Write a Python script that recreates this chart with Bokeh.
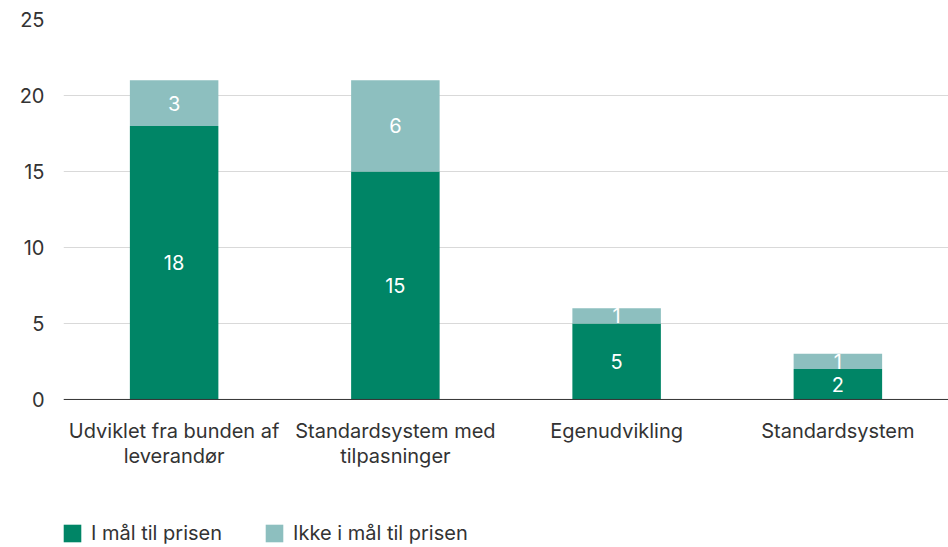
from bokeh.plotting import figure
from bokeh.models import ColumnDataSource, FactorRange, Range1d, Legend, LegendItem, Span
from bokeh.core.properties import value
from bokeh.embed import file_html
from bokeh.resources import INLINE

categories = ["Udviklet fra bunden af leverandør", "Standardsystem med tilpasninger",
              "Egenudvikling", "Standardsystem"]
label_lines = ["Udviklet fra bunden af\nleverandør", "Standardsystem med\ntilpasninger",
               "Egenudvikling", "Standardsystem"]
i_maal = [18, 15, 5, 2]
ikke_i_maal = [3, 6, 1, 1]
series_names = ["I mål til prisen", "Ikke i mål til prisen"]
y_ticks = [0, 5, 10, 15, 20, 25]

FONT = "Inter"
FS = "20px"
DARK = "#008566"
LIGHT = "#8DBFBF"
TEXT = "#333333"

src = ColumnDataSource(dict(cat=categories, a=i_maal, b=ikke_i_maal))

# the frame extends below zero so that category labels and legend sit inside it
p = figure(x_range=FactorRange(*categories), y_range=Range1d(-9.74, 25),
           width=948, height=547, output_backend="svg", toolbar_location=None,
           x_axis_location=None,
           min_border_left=63, min_border_right=0, min_border_top=19, min_border_bottom=0)
p.outline_line_color = None
p.background_fill_color = "white"

r = p.vbar_stack(["a", "b"], x="cat", width=0.4, source=src, color=[DARK, LIGHT], line_width=0)

# value labels
lab_x, lab_y, lab_t = [], [], []
for c, a, b in zip(categories, i_maal, ikke_i_maal):
    lab_x += [c, c]
    lab_y += [a / 2, a + b / 2]
    lab_t += [str(a), str(b)]
lsrc = ColumnDataSource(dict(x=lab_x, y=lab_y, t=lab_t))
p.text(x="x", y="y", text="t", source=lsrc, text_color="white", text_align="center",
       text_baseline="middle", text_font=value(FONT), text_font_size=FS)

# category labels
csrc = ColumnDataSource(dict(x=categories, t=label_lines, y=[-1.3] * len(categories)))
p.text(x="x", y="y", text="t", source=csrc, text_color=TEXT, text_align="center",
       text_baseline="top", text_font=value(FONT), text_font_size=FS, text_line_height=1.05)

p.add_layout(Span(location=0, dimension="width", line_color="#333333", line_width=1))

p.xgrid.grid_line_color = None
p.ygrid.grid_line_color = "#D9D9D9"
p.ygrid.grid_line_width = 1
p.yaxis.ticker = y_ticks
p.yaxis.axis_line_color = None
p.yaxis.major_tick_line_color = None
p.yaxis.minor_tick_line_color = None
p.yaxis.major_label_standoff = 13
p.yaxis.major_label_text_font = FONT
p.yaxis.major_label_text_font_size = FS
p.yaxis.major_label_text_color = TEXT

legend = Legend(items=[LegendItem(label=series_names[0], renderers=[r[0]]),
                       LegendItem(label=series_names[1], renderers=[r[1]])],
                location=(-2, 2), orientation="horizontal",
                glyph_width=22, glyph_height=22, label_standoff=8, spacing=41,
                padding=0, margin=0, border_line_color=None, background_fill_alpha=0,
                label_text_font=FONT, label_text_font_size=FS, label_text_color=TEXT)
p.add_layout(legend, "center")

open("out.html", "w").write(file_html(p, INLINE))
